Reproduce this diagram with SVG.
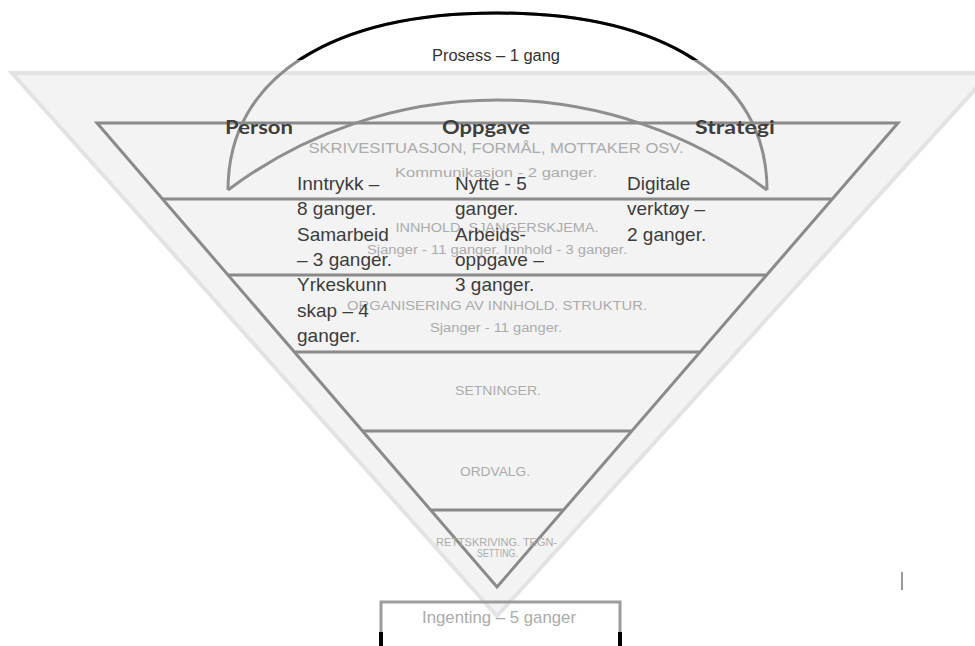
<svg xmlns="http://www.w3.org/2000/svg" width="975" height="646" viewBox="0 0 975 646">
  <style>
    .layer-line { stroke: #8a8a8a; stroke-width: 3; fill: none; }
    .arc { fill: none; stroke: #8e8e8e; stroke-width: 3; }
    .head { font-family: Lato, "Open Sans", "Liberation Sans", sans-serif; font-weight: bold; font-size: 19px; fill: #3e3e3e; }
    .level { font-family: "Liberation Sans", Arial, sans-serif; fill: #ababab; text-anchor: middle; }
    .note { font-family: "Liberation Sans", Arial, sans-serif; font-size: 19px; fill: #3c3c3c; }
  </style>
  <defs>
    <clipPath id="top-clip">
      <rect x="0" y="0" width="975" height="60"/>
    </clipPath>
  </defs>

  <rect width="975" height="646" fill="#ffffff"/>

  <!-- wide light background funnel -->
  <g id="outer-funnel">
    <polygon points="12,73 990,73 497,616" fill="#f3f3f3" stroke="#e3e3e3" stroke-width="4" stroke-linejoin="miter"/>
  </g>

  <!-- layered pyramid -->
  <g id="pyramid">
    <polygon points="97,123 898,123 497,587" fill="#f3f3f3" stroke="#8a8a8a" stroke-width="3"/>
  </g>

  <g id="connectors">
    <line class="layer-line" x1="162" y1="199" x2="833" y2="199"/>
    <line class="layer-line" x1="228" y1="275" x2="767" y2="275"/>
    <line class="layer-line" x1="294" y1="352" x2="701" y2="352"/>
    <line class="layer-line" x1="362" y1="431" x2="632" y2="431" stroke-width="5"/>
    <line class="layer-line" x1="430" y1="510" x2="564" y2="510"/>
  </g>

  <!-- arcs spanning Person / Oppgave / Strategi -->
  <g id="process-arc">
    <path class="arc" d="M228,190 C228,75 335,13 497,13 C659,13 767,75 767,190"/>
    <path d="M228,190 C228,75 335,13 497,13 C659,13 767,75 767,190" fill="none" stroke="#000000" stroke-width="3" clip-path="url(#top-clip)"/>
    <text x="496" y="61" font-family="'Liberation Sans', Arial, sans-serif" font-size="16" fill="#333333" text-anchor="middle" textLength="128" lengthAdjust="spacingAndGlyphs">Prosess – 1 gang</text>
  </g>
  <g id="task-arc">
    <path class="arc" d="M228,190 A448.5,448.5 0 0 1 767,190"/>
  </g>

  <!-- level labels -->
  <g id="level-1">
    <text class="level" x="496" y="153" font-size="14.5" textLength="375" lengthAdjust="spacingAndGlyphs">SKRIVESITUASJON,  FORMÅL, MOTTAKER  OSV.</text>
    <text class="level" x="496" y="177" font-size="13.5" textLength="202" lengthAdjust="spacingAndGlyphs">Kommunikasjon  - 2 ganger.</text>
  </g>
  <g id="level-2">
    <text class="level" x="497" y="232" font-size="12.5" textLength="203" lengthAdjust="spacingAndGlyphs">INNHOLD. SJANGERSKJEMA.</text>
    <text class="level" x="497" y="254" font-size="12.5" textLength="260" lengthAdjust="spacingAndGlyphs">Sjanger - 11 ganger. Innhold - 3 ganger.</text>
  </g>
  <g id="level-3">
    <text class="level" x="497" y="310" font-size="13.5" textLength="300" lengthAdjust="spacingAndGlyphs">ORGANISERING  AV INNHOLD.  STRUKTUR.</text>
    <text class="level" x="496" y="332" font-size="12.5" textLength="132" lengthAdjust="spacingAndGlyphs">Sjanger - 11 ganger.</text>
  </g>
  <g id="level-4">
    <text class="level" x="498" y="395" font-size="13.5" textLength="86" lengthAdjust="spacingAndGlyphs">SETNINGER.</text>
  </g>
  <g id="level-5">
    <text class="level" x="495" y="476" font-size="13.5" textLength="70" lengthAdjust="spacingAndGlyphs">ORDVALG.</text>
  </g>
  <g id="level-6">
    <text class="level" x="496.5" y="546" font-size="10" textLength="121" lengthAdjust="spacingAndGlyphs">RETTSKRIVING.  TEGN-</text>
    <text class="level" x="497.5" y="557" font-size="10" textLength="41" lengthAdjust="spacingAndGlyphs">SETTING.</text>
  </g>

  <!-- column headings -->
  <g id="person">
    <text class="head" x="225" y="134" textLength="68" lengthAdjust="spacingAndGlyphs">Person</text>
    <text class="note" x="297">
      <tspan x="297" y="190">Inntrykk –</tspan>
      <tspan x="297" y="215.3">8 ganger.</tspan>
      <tspan x="297" y="240.6">Samarbeid</tspan>
      <tspan x="297" y="266">– 3 ganger.</tspan>
      <tspan x="297" y="291.3">Yrkeskunn</tspan>
      <tspan x="297" y="316.6">skap – 4</tspan>
      <tspan x="297" y="342">ganger.</tspan>
    </text>
  </g>
  <g id="oppgave">
    <text class="head" x="442" y="134" textLength="88" lengthAdjust="spacingAndGlyphs">Oppgave</text>
    <text class="note" x="455">
      <tspan x="455" y="190">Nytte - 5</tspan>
      <tspan x="455" y="215.3">ganger.</tspan>
      <tspan x="455" y="240.6">Arbeids-</tspan>
      <tspan x="455" y="266">oppgave –</tspan>
      <tspan x="455" y="291.3">3 ganger.</tspan>
    </text>
  </g>
  <g id="strategi">
    <text class="head" x="695" y="134" textLength="80" lengthAdjust="spacingAndGlyphs">Strategi</text>
    <text class="note" x="627">
      <tspan x="627" y="190">Digitale</tspan>
      <tspan x="627" y="215.3">verktøy –</tspan>
      <tspan x="627" y="240.6">2 ganger.</tspan>
    </text>
  </g>

  <!-- box below the funnel tip -->
  <g id="ingenting">
    <rect x="381" y="602" width="239" height="60" fill="none" stroke="#9c9c9c" stroke-width="3"/>
    <line x1="381" y1="632" x2="381" y2="646" stroke="#000000" stroke-width="4"/>
    <line x1="620" y1="632" x2="620" y2="646" stroke="#000000" stroke-width="4"/>
    <text class="level" x="499" y="623" font-size="17" textLength="154" lengthAdjust="spacingAndGlyphs">Ingenting – 5 ganger</text>
  </g>

  <!-- stray cursor mark -->
  <line x1="902" y1="572" x2="902" y2="590" stroke="#9a9a9a" stroke-width="2"/>
</svg>
